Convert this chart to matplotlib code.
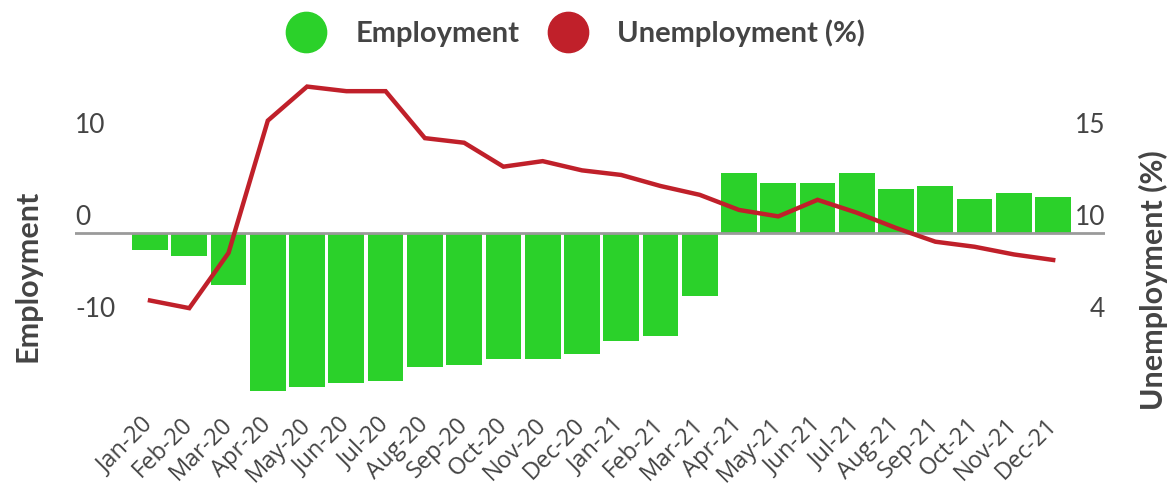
import numpy as np
import matplotlib
matplotlib.use("Agg")
import matplotlib.pyplot as plt
from matplotlib.lines import Line2D
from matplotlib.transforms import ScaledTranslation

# -----------------------------
# Data
# -----------------------------
months = ["Jan-20", "Feb-20", "Mar-20", "Apr-20", "May-20", "Jun-20",
          "Jul-20", "Aug-20", "Sep-20", "Oct-20", "Nov-20", "Dec-20",
          "Jan-21", "Feb-21", "Mar-21", "Apr-21", "May-21", "Jun-21",
          "Jul-21", "Aug-21", "Sep-21", "Oct-21", "Nov-21", "Dec-21"]

employment = [-1.9, -2.5, -5.6, -17.2, -16.7, -16.3,
              -16.05, -14.6, -14.3, -13.7, -13.7, -13.2,
              -11.7, -11.2, -6.8, 6.5, 5.4, 5.4,
              6.5, 4.8, 5.15, 3.7, 4.3, 3.95]

unemployment = [5.6, 5.1, 8.7, 16.1, 17.95, 17.7,
                17.7, 15.15, 14.9, 13.6, 13.9, 13.4,
                13.15, 12.55, 12.07, 11.25, 10.9, 11.8,
                11.1, 10.27, 9.43, 9.1, 8.6, 8.24]

left_ticks = [-10, 0, 10]
right_ticks = [4, 10, 15]

GREEN = "#2BD12A"
RED = "#C0202A"
TEXT = "#444444"

plt.rcParams['font.family'] = ['Lato', 'DejaVu Sans']


# right axis is piecewise linear so its ticks line up with the left ones
def fwd(u):
    u = np.asarray(u, dtype=float)
    return np.where(u >= 10, (u - 10) * 2.0, (u - 10) / 0.6)


def inv(v):
    v = np.asarray(v, dtype=float)
    return np.where(v >= 0, 10 + v / 2.0, 10 + v * 0.6)


fig = plt.figure(figsize=(11.68, 4.88), dpi=100)
ax = fig.add_axes([75 / 1168, 1 - 395 / 488, 1030 / 1168, 325 / 488])

x = np.arange(len(months))
ax.bar(x, employment, width=0.91, color=GREEN, zorder=2)
ax.axhline(0, color="#9a9a9a", linewidth=2, zorder=3)

ylo, yhi = -17.6, 17.7
ax.set_ylim(ylo, yhi)
ax.set_xlim(-1.91, 24.32)

ax2 = ax.twinx()
ax2.set_yscale('function', functions=(fwd, inv))
ax2.set_ylim(float(inv(ylo)), float(inv(yhi)))
ax2.plot(x, unemployment, color=RED, linewidth=3.2, zorder=4,
         solid_joinstyle='miter')

for a in (ax, ax2):
    for s in a.spines.values():
        s.set_visible(False)

# left tick labels, drawn inside the plot and above their ticks
ax.set_yticks(left_ticks)
ax.set_yticklabels([str(t) for t in left_ticks])
ax.tick_params(axis='y', length=0, pad=0, labelsize=19, labelcolor=TEXT)
shift = ScaledTranslation(0, 0.18, fig.dpi_scale_trans)
for lab in ax.get_yticklabels():
    lab.set_horizontalalignment('left')
    lab.set_transform(lab.get_transform() + shift)

ax2.set_yticks(right_ticks)
ax2.set_yticklabels([str(t) for t in right_ticks])
ax2.yaxis.set_minor_locator(plt.NullLocator())
ax2.tick_params(axis='y', length=0, pad=0, labelsize=19, labelcolor=TEXT)
for lab in ax2.get_yticklabels():
    lab.set_horizontalalignment('right')
    lab.set_transform(lab.get_transform() + shift)

# x labels
ax.set_xticks(x)
ax.set_xticklabels(months, rotation=45, ha='right', va='center',
                   rotation_mode='anchor', fontsize=17, color=TEXT,
                   family=['Open Sans', 'DejaVu Sans'])
ax.tick_params(axis='x', length=0, pad=19)

# axis titles
fig.text(28 / 1168, 1 - 276 / 488, "Employment", rotation=90, ha='center',
         va='center', fontsize=22, fontweight='bold', color=TEXT)
fig.text(1153 / 1168, 1 - 280 / 488, "Unemployment (%)", rotation=90,
         ha='center', va='center', fontsize=22, fontweight='bold', color=TEXT)

# legend
handles = [Line2D([], [], linestyle='none', marker='o', markersize=29,
                  markerfacecolor=GREEN, markeredgecolor=GREEN),
           Line2D([], [], linestyle='none', marker='o', markersize=29,
                  markerfacecolor=RED, markeredgecolor=RED)]
leg = fig.legend(handles, ["Employment", "Unemployment (%)"], loc='center',
                 bbox_to_anchor=(0.4927, 1 - 33 / 488), ncol=2, frameon=False,
                 handlelength=1.4, handletextpad=1.0, columnspacing=0.95,
                 prop={'size': 21, 'weight': 'bold'})
for t in leg.get_texts():
    t.set_color(TEXT)

fig.savefig("out.png", dpi=100)
